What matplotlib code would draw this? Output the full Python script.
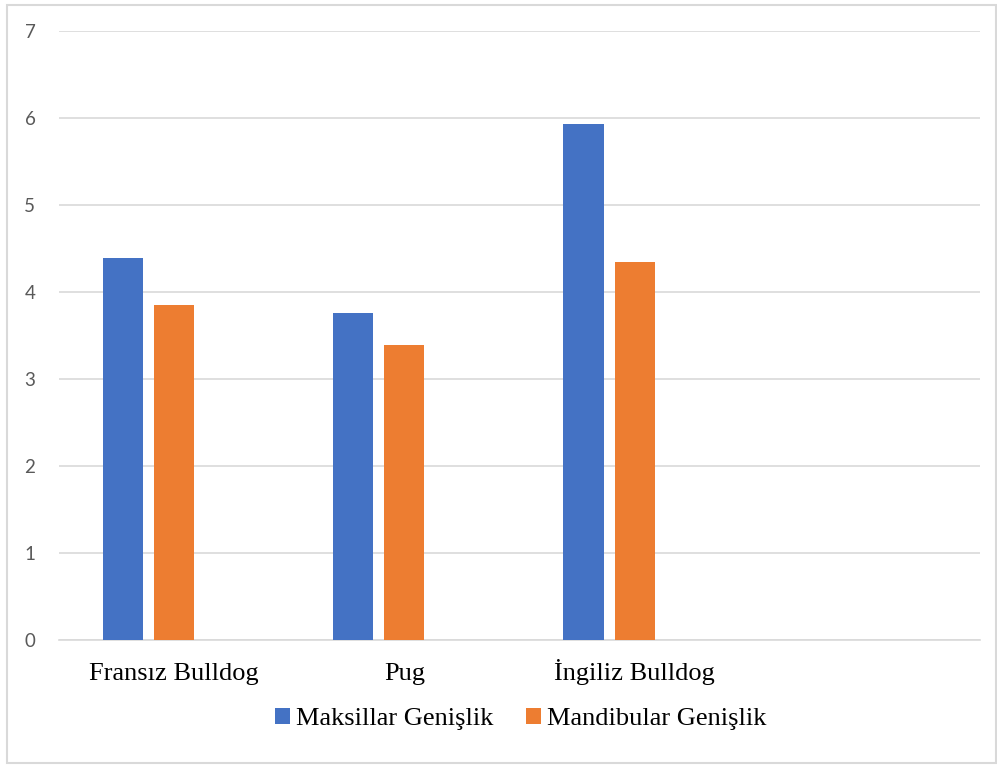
import numpy as np
import matplotlib
matplotlib.use('Agg')
import matplotlib.pyplot as plt
from matplotlib.patches import Rectangle

# Irk bazında ortalama genişlik değerleri
categories = ['Fransız Bulldog', 'Pug', 'İngiliz Bulldog', '']
maksillar = [4.39, 3.76, 5.93, np.nan]
mandibular = [3.85, 3.39, 4.35, np.nan]
series_names = ['Maksillar Genişlik', 'Mandibular Genişlik']
yticks = [0, 1, 2, 3, 4, 5, 6, 7]

blue = '#4472C4'
orange = '#ED7D31'
grid_color = '#D9D9D9'

fig = plt.figure(figsize=(9.97, 7.66), dpi=100)
ax = fig.add_axes([59 / 997, 1 - 640 / 766, 921 / 997, 609 / 766])

x = np.arange(len(categories))
width = 0.174
ax.bar(x - 0.222, maksillar, width, color=blue, label=series_names[0], zorder=3)
ax.bar(x, mandibular, width, color=orange, label=series_names[1], zorder=3)

ax.set_xlim(-0.5, len(categories) - 0.5)
ax.set_ylim(0, 7)
ax.set_yticks(yticks)
ax.set_yticklabels([str(t) for t in yticks], fontname='Lato', fontsize=13.5, color='#595959')
ax.tick_params(axis='y', length=0, pad=17)
ax.set_xticks(x)
ax.set_xticklabels(categories, fontname='Liberation Serif', fontsize=19, color='black')
ax.tick_params(axis='x', length=0, pad=29)
for lbl in ax.get_xticklabels():
    lbl.set_verticalalignment('baseline')

ax.yaxis.grid(True, color=grid_color, linewidth=1.2, zorder=0)
for side in ['top', 'right', 'left']:
    ax.spines[side].set_visible(False)
ax.spines['bottom'].set_color(grid_color)
ax.spines['bottom'].set_linewidth(1.2)

leg = fig.legend(loc='center', bbox_to_anchor=(521 / 997, 1 - 719 / 766), ncol=2,
                 frameon=False, prop={'family': 'Liberation Serif', 'size': 19},
                 handlelength=0.55, handleheight=0.55, handletextpad=0.25,
                 columnspacing=1.23)

# dış çerçeve
fig.patches.append(Rectangle((7 / 997, 3 / 766), 989 / 997, 758 / 766,
                             transform=fig.transFigure, fill=False,
                             edgecolor=grid_color, linewidth=1.5))

fig.savefig('out.png', dpi=100)
